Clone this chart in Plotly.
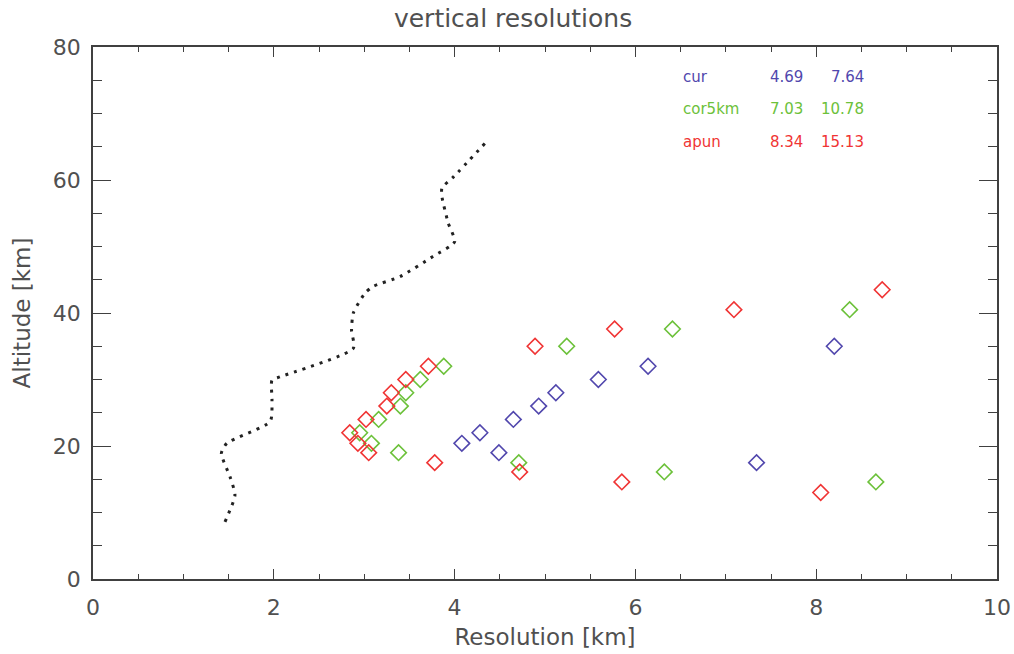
import plotly.graph_objects as go

# dotted reference profile
ref_res = [1.46, 1.57, 1.52, 1.42, 1.48, 1.96, 1.98, 1.98, 2.07, 2.88, 2.86, 2.88, 3.01, 3.10, 3.40, 3.76, 4.00, 3.93, 3.86, 3.86, 3.99, 4.37]
ref_alt = [8.6, 12.6, 15.2, 18.9, 20.4, 23.7, 26.9, 29.9, 30.4, 34.7, 37.4, 40.0, 43.0, 44.0, 45.5, 48.5, 50.7, 53.5, 57.5, 58.8, 60.5, 66.0]

# apun (red)
apun_res = [8.05, 5.85, 4.72, 3.78, 3.05, 2.93, 2.84, 3.02, 3.25, 3.30, 3.46, 3.71, 4.89, 5.77, 7.09, 8.73]
apun_alt = [13.0, 14.6, 16.1, 17.5, 19.0, 20.4, 22.0, 24.0, 26.0, 28.0, 30.0, 32.0, 35.0, 37.6, 40.5, 43.5]

# cor5km (green)
cor_res = [8.66, 6.32, 4.71, 3.38, 3.08, 2.95, 3.16, 3.40, 3.46, 3.62, 3.88, 5.24, 6.41, 8.37]
cor_alt = [14.6, 16.1, 17.5, 19.0, 20.4, 22.0, 24.0, 26.0, 28.0, 30.0, 32.0, 35.0, 37.6, 40.5]

# cur (blue)
cur_res = [7.34, 4.49, 4.08, 4.28, 4.65, 4.93, 5.12, 5.59, 6.14, 8.20]
cur_alt = [17.5, 19.0, 20.4, 22.0, 24.0, 26.0, 28.0, 30.0, 32.0, 35.0]

legend_names = ["cur", "cor5km", "apun"]
legend_v1 = ["4.69", "7.03", "8.34"]
legend_v2 = ["7.64", "10.78", "15.13"]

BLUE = "#5147ad"
GREEN = "#6cc13a"
RED = "#f03434"
colors = [BLUE, GREEN, RED]
FONT = "DejaVu Sans"
TXT = "#505050"
AX = "#404040"

L, R, T, B = 93, 997, 47, 579
PW, PH = R - L, B - T

fig = go.Figure()
fig.add_trace(go.Scatter(x=ref_res, y=ref_alt, mode="lines",
                         line=dict(color="#222", width=3, dash="3px,6px", shape="spline", smoothing=0.6),
                         showlegend=False, hoverinfo="skip"))
for xs, ys, c in [(cur_res, cur_alt, BLUE), (cor_res, cor_alt, GREEN), (apun_res, apun_alt, RED)]:
    fig.add_trace(go.Scatter(x=xs, y=ys, mode="markers",
                             marker=dict(symbol="diamond-open", size=12, color=c, line=dict(width=1.6, color=c)),
                             showlegend=False))

rows_y = [77, 109, 142]
for i, name in enumerate(legend_names):
    yp = 1 - (rows_y[i] - T) / PH
    for txt, xp, anc in [(name, 681, "left"), (legend_v1[i], 805, "right"), (legend_v2[i], 866, "right")]:
        fig.add_annotation(x=(xp - L) / PW, y=yp, xref="paper", yref="paper",
                           text=txt, showarrow=False, xanchor=anc, yanchor="middle",
                           font=dict(family=FONT, size=15, color=colors[i]))

axis_common = dict(showline=True, linecolor=AX, linewidth=1.6, mirror="ticks",
                   ticks="inside", tickwidth=1.3, tickcolor=AX,
                   showgrid=False, zeroline=False, automargin=False,
                   tickfont=dict(family=FONT, size=22, color=TXT))

fig.update_xaxes(range=[0, 10], dtick=2, tick0=0, ticklen=10, ticklabelstandoff=8,
                 minor=dict(dtick=0.5, ticks="inside", ticklen=5, tickcolor=AX, tickwidth=1.3, showgrid=False),
                 title=dict(text="Resolution [km]", font=dict(family=FONT, size=23, color=TXT), standoff=10),
                 **axis_common)
fig.update_yaxes(range=[0, 80], dtick=20, tick0=0, ticklen=18, ticklabelstandoff=6,
                 minor=dict(dtick=5, ticks="inside", ticklen=9, tickcolor=AX, tickwidth=1.3, showgrid=False),
                 title=dict(text="Altitude [km]", font=dict(family=FONT, size=23, color=TXT), standoff=16),
                 **axis_common)

fig.update_layout(width=1014, height=654,
                  margin=dict(l=L, r=1014 - R, t=T, b=654 - B),
                  plot_bgcolor="white", paper_bgcolor="white",
                  title=dict(text="vertical resolutions", x=0.506, xanchor="center",
                             y=0.972, yanchor="middle",
                             font=dict(family=FONT, size=25, color=TXT)))

fig.write_html("out.html")
